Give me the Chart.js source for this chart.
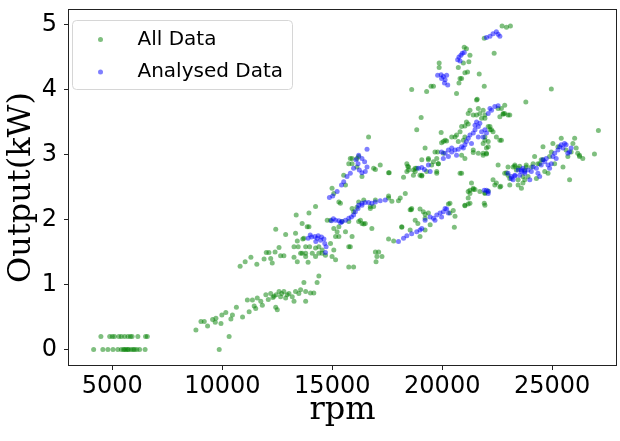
<!DOCTYPE html>
<html>
<head>
<meta charset="utf-8">
<script src="https://cdn.jsdelivr.net/npm/chart.js@4/dist/chart.umd.min.js"></script>
<style>
  html, body { margin: 0; padding: 0; background: #fff; }
  canvas { display: block; }
</style>
</head>
<body>
<canvas id="myChart" width="620" height="441"></canvas>
<script>
// rpm / kW pairs
const allData = [
  // idle cluster
  [4150,0],[4570,0],[4800,0],[5030,0],[5250,0],[5410,0],[5510,0],[5560,0],[5630,0],[5700,0],[5750,0],[5860,0],[5950,0],[6010,0],[6110,0],[6240,0],[6490,0],[9860,0],
  [4480,0.2],[4880,0.2],[5000,0.2],[5100,0.2],[5300,0.2],[5410,0.2],[5560,0.2],[5710,0.2],[5820,0.2],[5900,0.2],[6160,0.2],[6510,0.2],[6590,0.2],
  // lower band
  [8800,0.30],[9030,0.43],[9180,0.43],[9330,0.36],[9560,0.46],[9680,0.42],[9710,0.48],[9940,0.40],[9980,0.53],[10160,0.57],[10390,0.47],[10460,0.53],
  [10640,0.65],[10920,0.50],[11140,0.76],[11220,0.58],[11370,0.76],[11450,0.67],[11520,0.63],[11590,0.79],[11750,0.74],[11820,0.68],[11980,0.84],
  [12090,0.77],[12200,0.86],[12300,0.80],[12350,0.82],[12430,0.65],[12450,0.84],[12500,0.61],[12580,0.89],[12650,0.81],[12700,0.86],[12800,0.89],
  [12880,0.79],[12950,0.84],[13030,0.86],[13180,0.81],[13260,0.74],[13330,0.89],[13480,0.86],[13560,0.92],[13710,1.03],[13790,0.89],[13790,0.74],
  [14010,0.87],[14160,0.87],[14310,1.03],[14390,1.13],[10310,0.20],
  // 1.2 - 1.9 band
  [10810,1.28],[11040,1.35],[11300,1.42],[11570,1.31],[11900,1.39],[12000,1.49],[12120,1.49],[12200,1.40],[12270,1.33],[12400,1.50],[12580,1.57],
  [12650,1.44],[12800,1.44],[12430,1.85],[12880,1.77],[13260,1.42],[13260,1.58],[13410,1.67],[13450,1.58],[13560,1.48],[13630,1.94],[13660,1.70],
  [13790,1.48],[13900,1.34],[13940,1.89],[13330,1.79],[13970,1.58],[14090,1.48],[14240,1.56],[14390,1.48],[14540,1.53],[14690,1.45],
  [13710,1.71],[15300,1.74],[14920,1.63],[14390,1.58],[13790,1.58],[13630,1.48],[14540,1.48],[14990,1.43],
  [13410,1.35],[13790,1.43],[14240,1.43],[15070,1.53],[15150,1.38],[15150,1.74],[15220,1.81],[15820,1.58],[15750,1.27],[15970,1.27],
  [16960,1.50],[16990,1.35],[17260,1.43],[17560,1.70],[17110,1.50],[17030,1.43],[15750,1.58],
  // 15000 - 17500
  [16650,3.27],[15900,2.94],[15750,2.86],[16120,2.81],[16350,2.66],[16960,2.77],[17180,2.84],[17560,2.72],[15520,2.68],[15600,2.53],[14990,2.48],
  [15070,2.40],[15300,2.27],[15370,2.25],[14240,2.20],[13940,2.10],[13860,1.89],[14770,1.99],[14920,1.99],[15070,1.86],[15300,1.89],[15440,1.97],
  [15750,1.97],[15900,2.17],[15970,2.12],[16120,2.19],[16200,2.27],[16280,1.99],[16500,1.94],[16800,1.86],[15600,1.81],[15900,1.74],[16430,2.30],
  [16730,2.20],[16960,2.30],[17560,2.36],[17710,2.28],[18010,2.29],[18320,2.40],[18470,2.81],[18470,2.76],[18840,3.38],[18840,2.79],[18540,2.15],
  [18160,1.89],[18770,1.99],[15820,2.94],[15900,2.86],[16120,2.94],[13360,2.07],
  [16350,1.94],[16430,1.93],[16200,1.97],[16730,2.17],[16880,2.20],[17560,2.33],[17590,2.72],[18240,2.65],[18430,2.82],[18770,2.74],[19070,2.67],
  [19370,2.92],[19820,2.86],[19750,2.71],[20880,2.71],[21410,3.03],[22010,3.01],[16880,2.79],[16200,2.97],
  // 17500 - 21000 lower band
  [17790,1.67],[18160,1.88],[18540,1.84],[18590,2.15],[18990,2.16],[18990,1.74],[19220,1.84],[19450,1.92],[19220,2.08],[19220,2.02],[18890,1.94],
  [19140,2.12],[19370,2.10],[20280,2.24],[20350,2.10],[20500,2.14],[20580,2.05],[20550,1.88],[21030,2.21],[21180,2.24],[21260,2.25],
  [21410,2.46],[21330,2.56],[21490,2.46],[21710,2.43],[21910,2.25],[21940,2.40],[22090,2.44],[22310,2.61],[22460,2.56],[22540,2.84],[22660,2.51],
  [22920,2.72],[23300,2.82],[23450,2.79],[23600,2.48],[23750,2.76],[24050,2.81],[24350,2.86],[24580,2.92],[25790,2.61],[26240,2.97],[26920,3.01],
  // top clusters
  [21910,4.79],[22720,4.98],[22920,4.96],[23100,4.98],[22360,4.56],[21000,4.65],[21100,4.63],[21260,4.53],[21210,4.43],[20960,4.41],[20730,4.34],
  [21150,4.27],[21030,4.26],[20810,4.17],[20760,4.10],[20650,3.94],[21680,4.24],[21910,4.05],[19860,4.41],[19860,4.34],[21590,3.85],[19490,4.05],
  [19600,4.05],[19290,3.97],[18610,4.00],[20880,4.17],[24960,4.01],[23800,3.81],
  // 19000 - 23000 main band
  [19040,3.57],[19220,3.10],[19670,3.04],[19950,3.34],[20050,3.20],[20200,3.21],[20430,3.27],[20650,3.30],[20730,3.20],[20960,3.22],[21030,3.27],
  [20880,3.43],[21100,3.50],[21180,3.63],[21260,3.68],[21410,3.61],[21560,3.61],[21710,3.63],[21790,3.56],[21940,3.61],[22090,3.43],[22240,3.38],
  [22310,3.35],[22460,3.27],[22620,3.58],[22690,3.71],[22840,3.76],[22990,3.61],[22840,3.63],[22620,3.22],[22090,3.20],[22010,3.10],[21860,3.02],
  [21640,3.02],[21410,3.07],[21030,2.94],[20880,2.99],[19750,2.94],[19820,2.86],[19520,2.84],[19370,2.94],[19070,2.92],[18770,2.79],[18690,2.68],
  [18390,2.74],[18090,2.33],[18990,2.68],[19290,2.74],[19600,2.89],[19750,2.74],[20810,2.71],[21260,2.45],[22390,2.53],[22990,2.81],[23220,2.81],
  [23370,2.76],[23450,2.61],[23670,2.56],[23820,2.81],[18610,2.17],[20350,2.25],[21030,2.22],[21180,2.33],[21260,2.40],
  [19970,3.18],[20130,3.22],[19790,3.04],[20050,3.02],[20580,3.27],[20810,3.35],[21030,3.44],[21180,3.47],[21560,3.84],[21640,3.71],[21860,3.68],
  [21940,3.56],[22170,3.43],[21940,3.22],[22090,3.12],[22540,3.71],[22770,3.63],[23070,3.61],[21180,2.43],[21410,2.48],[22840,2.71],[23300,2.84],
  [18690,2.76],[19070,2.68],[18390,2.86],
  // 23000 - 27000 band
  [22990,2.68],[23070,2.63],[23520,2.82],[23670,2.66],[23750,2.61],[23820,2.84],[23900,2.66],[24130,2.86],[24200,2.97],[24280,2.63],[24430,2.86],
  [24500,2.92],[24580,3.12],[24660,2.74],[24810,2.71],[24880,2.97],[24960,3.04],[25030,3.17],[25110,2.86],[25260,3.12],[25410,3.25],[25490,2.81],
  [25630,3.07],[25710,2.97],[25860,3.04],[25940,3.17],[26020,3.25],[26090,3.10],[26160,3.02],[26240,2.99],[26390,2.94],[27100,3.37],[23070,2.53],
  [22620,2.50],[21940,2.41],[23450,2.53],[21940,2.22],[22690,3.22],[22010,3.02],[21860,2.99],[22170,3.38],[21860,3.17],[21940,3.27],[22770,3.62]
];

const analysedData = [
  [13900,1.71],[14000,1.76],[14060,1.73],[14210,1.74],[14250,1.66],[14310,1.71],[14360,1.75],[14470,1.68],[14510,1.73],[14620,1.70],[14660,1.63],
  [14720,1.58],[14690,1.49],
  [14960,1.98],[15050,2.01],[15150,1.99],[15300,1.98],[15380,1.95],[15440,1.97],[15600,1.99],[15750,2.02],[15870,2.04],[15970,2.07],[16050,2.12],
  [16170,2.17],[16200,2.22],[16350,2.22],[16350,2.25],[16500,2.26],[16650,2.26],[16800,2.25],[16960,2.27],[17180,2.29],[17410,2.30],
  [14870,2.34],[15020,2.36],[15220,2.43],[15420,2.53],[15520,2.58],[15670,2.66],[15820,2.71],[15970,2.79],[16080,2.92],[16200,2.99],[16350,2.94],
  [16470,2.89],[16580,2.81],[16500,2.74],[16350,2.72],[16230,2.76],[16170,2.86],[16580,3.08],
  [18010,1.66],[18240,1.71],[18390,1.75],[18610,1.78],[18840,1.81],[18990,1.84],[19070,1.86],[19220,1.99],[19450,2.04],[19600,2.02],[19670,1.99],
  [19750,2.07],[19900,2.10],[19970,2.04],[20050,2.12],[20130,2.17],[20200,2.16],[20280,2.10],
  [22010,4.80],[22170,4.82],[22310,4.86],[22460,4.89],[22540,4.85],[22620,4.82],
  [20700,4.46],[20760,4.50],[20810,4.44],[20850,4.53],[20910,4.56],[21000,4.57],
  [19790,4.22],[19950,4.23],[19970,4.17],[20050,4.20],[20100,4.10],[20130,4.15],[20200,4.22],[20250,4.07],
  [18920,2.79],[19070,2.80],[19190,2.77],[19370,2.84],[19450,2.74],[19970,3.04],[20050,2.94],[20130,3.02],[20280,3.07],[20280,2.97],[20430,3.10],
  [20430,3.04],[20580,3.07],[20650,2.99],[20730,3.08],[20880,3.12],[20960,3.10],[21030,3.15],[21100,3.20],[21180,3.25],[21260,3.30],[21330,3.17],
  [21410,3.33],[21490,3.38],[21490,3.45],[21560,3.50],[21640,3.43],[21640,3.27],[21710,3.48],[21790,3.35],[21860,3.27],[21940,3.38],[22010,3.33],
  [22090,3.63],[22170,3.71],[22240,3.68],[22390,3.74],[22540,3.75],
  [21910,2.45],[22010,2.45],[22090,2.40],[22090,2.43],
  [22990,2.71],[23140,2.63],[23140,2.66],[23220,2.61],[23300,2.67],[23300,2.68],[23450,2.76],[23520,2.68],[23600,2.76],[23600,2.74],[23670,2.79],
  [23750,2.74],[23750,2.71],[23900,2.76],[23980,2.61],[24050,2.74],[24130,2.81],[24280,2.79],[24350,2.71],[24430,2.66],[24500,2.84],[24580,2.92],
  [24660,2.89],[24730,2.94],[24810,2.84],[24880,2.79],[24960,2.86],[25030,2.97],[25110,3.02],[25180,2.94],[25260,3.07],[25340,3.12],[25410,3.15],
  [25490,3.10],[25560,3.17],[25630,3.15],[25710,3.02],[25790,3.04],[25860,3.10]
];

const xTicks = [5000, 10000, 15000, 20000, 25000];
const yTicks = [0, 1, 2, 3, 4, 5];
const seriesNames = ['All Data', 'Analysed Data'];

const greenFill = 'rgba(0,128,0,0.5)';
const blueFill = 'rgba(0,0,255,0.5)';

// box round the plot plus the legend drawn inside the axes
const frameAndLegend = {
  id: 'frameAndLegend',
  afterDatasetsDraw(chart) {
    const ctx = chart.ctx;
    const a = chart.chartArea;
    ctx.save();
    ctx.strokeStyle = '#222';
    ctx.lineWidth = 1;
    ctx.strokeRect(a.left - 0.5, a.top - 0.5, a.right - a.left + 1, a.bottom - a.top + 1);

    const lx = a.left + 3.5, ly = a.top + 10.5, lw = 220, lh = 69;
    ctx.beginPath();
    ctx.roundRect(lx, ly, lw, lh, 4);
    ctx.fillStyle = 'rgba(255,255,255,0.8)';
    ctx.fill();
    ctx.strokeStyle = '#d6d6d6';
    ctx.stroke();

    const colors = [greenFill, blueFill];
    ctx.font = '20px "DejaVu Sans"';
    ctx.textBaseline = 'middle';
    seriesNames.forEach(function(name, i) {
      const rowY = ly + 19 + i * 32.5;
      ctx.beginPath();
      ctx.arc(lx + 28, rowY, 2.5, 0, Math.PI * 2);
      ctx.fillStyle = colors[i];
      ctx.fill();
      ctx.fillStyle = '#000';
      ctx.fillText(name, lx + 65, rowY);
    });
    ctx.restore();
  }
};

const ctx1 = document.getElementById('myChart');

const config1 = {
  type: 'scatter',
  data: {
    datasets: [{
      label: seriesNames[0],
      data: allData.map(p => ({x: p[0], y: p[1]})),
      backgroundColor: greenFill,
      borderWidth: 0,
      pointRadius: 2.5,
      order: 1
    }, {
      label: seriesNames[1],
      data: analysedData.map(p => ({x: p[0], y: p[1]})),
      backgroundColor: blueFill,
      borderWidth: 0,
      pointRadius: 2.5,
      order: 0
    }]
  },
  options: {
    responsive: false,
    animation: false,
    devicePixelRatio: 1,
    events: [],
    layout: { padding: { top: 10, right: 2, left: 0, bottom: 0 } },
    plugins: { legend: { display: false }, tooltip: { enabled: false } },
    scales: {
      x: {
        type: 'linear',
        min: 3030,
        max: 27900,
        afterBuildTicks: s => { s.ticks = xTicks.map(v => ({value: v})); },
        afterFit: s => { s.height = 76; s.paddingLeft = 0; s.paddingRight = 0; },
        grid: { drawOnChartArea: false, drawTicks: true, tickLength: 5, color: '#222', lineWidth: 1 },
        border: { display: false },
        ticks: {
          font: { family: 'DejaVu Sans', size: 24 }, color: '#000', padding: 2, maxRotation: 0,
          callback: v => String(v)
        },
        title: { display: true, text: 'rpm', font: { family: 'DejaVu Serif', size: 32 }, color: '#000', padding: { top: 0, bottom: 11 } }
      },
      y: {
        type: 'linear',
        min: -0.24,
        max: 5.225,
        afterBuildTicks: s => { s.ticks = yTicks.map(v => ({value: v})); },
        afterFit: s => { s.width = 69; s.paddingTop = 0; s.paddingBottom = 0; },
        grid: { drawOnChartArea: false, drawTicks: true, tickLength: 5, color: '#222', lineWidth: 1 },
        border: { display: false },
        ticks: {
          font: { family: 'DejaVu Sans', size: 24 }, color: '#000', padding: 7,
          callback: v => String(v)
        },
        title: { display: true, text: 'Output(kW)', font: { family: 'DejaVu Serif', size: 32 }, color: '#000', padding: { top: 2, bottom: 0 } }
      }
    }
  },
  plugins: [frameAndLegend]
};

let chart1 = new Chart(ctx1, config1);
</script>
</body>
</html>
